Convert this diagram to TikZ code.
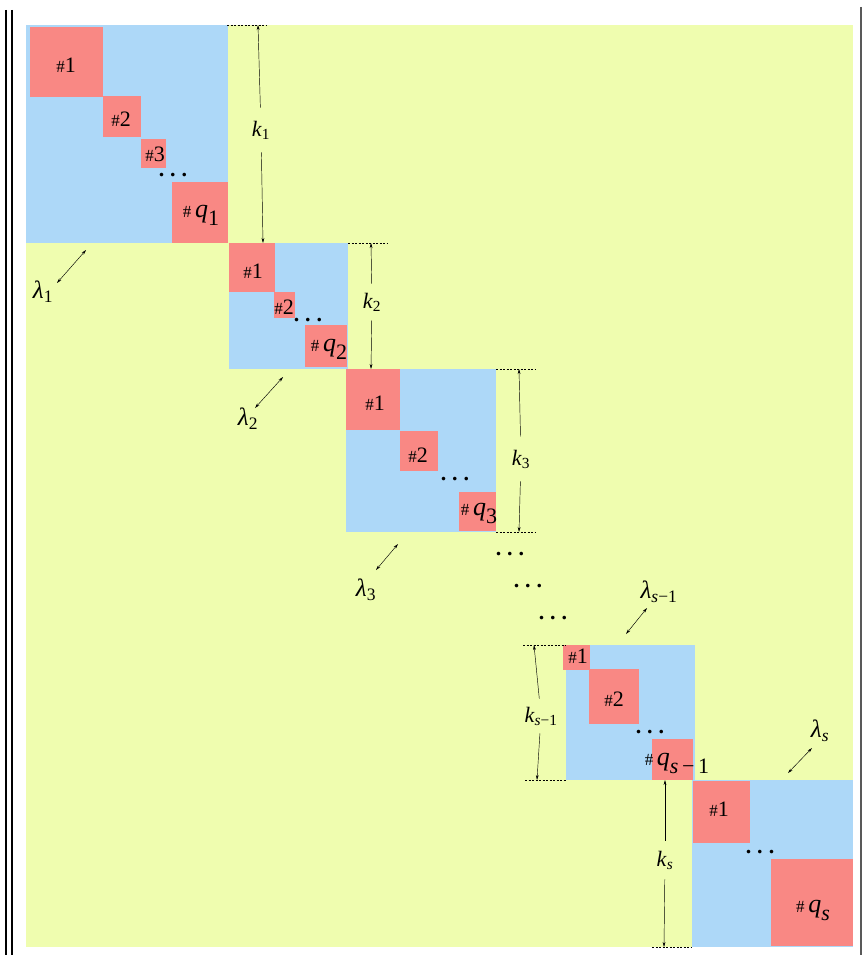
\documentclass[tikz,border=0pt]{standalone}
\usepackage{fontspec}
\setmainfont{Liberation Serif}
\usetikzlibrary{arrows.meta}
\definecolor{bgyellow}{RGB}{239,253,175}
\definecolor{blkblue}{RGB}{173,216,248}
\definecolor{subred}{RGB}{249,136,132}
\newcommand{\hs}{{\fontsize{17}{17}\selectfont\#}}
\newcommand{\qlab}[1]{\hs\,{\fontsize{26}{26}\selectfont\textit{q}}\raisebox{-8pt}{#1}}
\newcommand{\dotrow}{\textbf{.\kern6pt.\kern6pt.}}
\begin{document}
\begin{tikzpicture}[x=1pt,y=-1pt,
  blk/.style={fill=blkblue},
  sq/.style={fill=subred},
  lab/.style={font=\fontsize{22}{26}\selectfont,inner sep=0pt},
  lamlab/.style={font=\fontsize{25}{28}\selectfont,inner sep=0pt},
  klab/.style={font=\fontsize{22}{26}\selectfont,inner xsep=1pt,inner ysep=11pt},
  dim/.style={-{Stealth[length=5pt,width=2.8pt]},line width=0.45pt},
  twohead/.style={{Stealth[length=5pt,width=2.8pt]}-{Stealth[length=5pt,width=2.8pt]},line width=0.45pt},
  guide/.style={line width=0.45pt,dash pattern=on 2pt off 1.5pt}]
  \useasboundingbox (0,0) rectangle (862,955);
  \fill[white] (0,0) rectangle (862,955);
  \draw[line width=2pt] (6,10)--(6,955);
  \draw[line width=2pt] (12,10)--(12,955);
  \draw[line width=1.2pt,black!65] (861,7)--(861,955);
  \fill[bgyellow] (26,25) rectangle (853,947);
  % block 1
  \fill[blk] (26,25) rectangle (228,243);
  \fill[sq] (30,27) rectangle (103,97);
  \fill[sq] (103,96) rectangle (141,137);
  \fill[sq] (141,139) rectangle (166,168);
  \fill[sq] (172,182) rectangle (228,243);
  \node[lab] (a1) at (66,65) {\hs1};
  \node[lab] (a2) at (121,119) {\hs2};
  \node[lab] (a3) at (155,154) {\hs3};
  \node[lab] (adots) at (173,175) {\dotrow};
  \node[lab] (aq) at (201,215) {\qlab{1}};
  % block 2
  \fill[blk] (229,243) rectangle (348,369);
  \fill[sq] (229,243) rectangle (275,292);
  \fill[sq] (274,292) rectangle (295,318);
  \fill[sq] (305,325) rectangle (347,367);
  \node[lab] (b1) at (253,271) {\hs1};
  \node[lab] (b2) at (284,307) {\hs2};
  \node[lab] (bdots) at (308,320) {\dotrow};
  \node[lab] (bq) at (329,349) {\qlab{2}};
  % block 3
  \fill[blk] (346,369) rectangle (496,532);
  \fill[sq] (346,369) rectangle (400,430);
  \fill[sq] (400,431) rectangle (438,471);
  \fill[sq] (459,492) rectangle (496,531);
  \node[lab] (c1) at (375,403) {\hs1};
  \node[lab] (c2) at (418,455) {\hs2};
  \node[lab] (cdots) at (455,479) {\dotrow};
  \node[lab] (cq) at (479,513) {\qlab{3}};
  % gap
  \node[lab] (g1) at (510,554) {\dotrow};
  \node[lab] (g2) at (528,586) {\dotrow};
  \node[lab] (g3) at (553,618) {\dotrow};
  % block s-1
  \fill[blk] (566,645) rectangle (695,780);
  \fill[sq] (563,645) rectangle (590,670);
  \fill[sq] (589,669) rectangle (639,724);
  \fill[sq] (652,739) rectangle (693,780);
  \node[lab] (d1) at (578,656) {\hs1};
  \node[lab] (d2) at (614,699) {\hs2};
  \node[lab] (ddots) at (650,732) {\dotrow};
  \node[lab] (dq) at (677,763) {\qlab{\textit{s}\,−\,1}};
  % block s
  \fill[blk] (692,780) rectangle (853,947);
  \fill[sq] (693,781) rectangle (750,843);
  \fill[sq] (771,859) rectangle (853,946);
  \node[lab] (e1) at (719,809) {\hs1};
  \node[lab] (edots) at (760,852) {\dotrow};
  \node[lab] (eq) at (813,910) {\qlab{\textit{s}}};
  % sizes k
  \draw[guide] (227,25)--(266,25);
  \draw[guide] (348,243)--(387,243);
  \draw[guide] (496,369)--(535,369);
  \draw[guide] (496,532)--(535,532);
  \draw[guide] (523,645)--(566,645);
  \draw[guide] (525,780)--(566,780);
  \draw[guide] (652,947)--(692,947);
  \coordinate (k1top) at (258,25);
  \coordinate (k1bot) at (263,243);
  \node[klab,inner ysep=13pt] (k1) at (261,130) {\textit{k}\textsubscript{1}};
  \draw[dim] (k1)--(k1top);
  \draw[dim] (k1)--(k1bot);
  \coordinate (k2top) at (371,243);
  \coordinate (k2bot) at (371,369);
  \node[klab,inner ysep=9pt] (k2) at (372,302) {\textit{k}\textsubscript{2}};
  \draw[dim] (k2)--(k2top);
  \draw[dim] (k2)--(k2bot);
  \coordinate (k3top) at (519,369);
  \coordinate (k3bot) at (519,532);
  \node[klab,inner ysep=13pt] (k3) at (521,459) {\textit{k}\textsubscript{3}};
  \draw[dim] (k3)--(k3top);
  \draw[dim] (k3)--(k3bot);
  \coordinate (kstop1) at (534,645);
  \coordinate (ksbot1) at (537,780);
  \node[klab,inner ysep=8pt] (ks1) at (541,716) {\textit{k}\textsubscript{\textit{s}−1}};
  \draw[dim] (ks1)--(kstop1);
  \draw[dim] (ks1)--(ksbot1);
  \coordinate (kstop) at (665,780);
  \coordinate (ksbot) at (664,947);
  \node[klab,inner ysep=10pt] (ks) at (665,860) {\textit{k}\textsubscript{\textit{s}}};
  \draw[dim] (ks)--(kstop);
  \draw[dim] (ks)--(ksbot);
  % eigenvalues
  \coordinate (l1a) at (57,283);
  \coordinate (l1b) at (86,250);
  \node[lamlab] (l1) at (43,292) {\textit{λ}\textsubscript{1}};
  \draw[twohead] (l1a)--(l1b);
  \coordinate (l2a) at (255,408);
  \coordinate (l2b) at (283,377);
  \node[lamlab] (l2) at (248,419) {\textit{λ}\textsubscript{2}};
  \draw[twohead] (l2a)--(l2b);
  \coordinate (l3a) at (376,570);
  \coordinate (l3b) at (398,544);
  \node[lamlab] (l3) at (366,590) {\textit{λ}\textsubscript{3}};
  \draw[twohead] (l3a)--(l3b);
  \coordinate (ls1a) at (626,634);
  \coordinate (ls1b) at (647,608);
  \node[lamlab] (ls1) at (659,592) {\textit{λ}\textsubscript{\textit{s}−1}};
  \draw[twohead] (ls1a)--(ls1b);
  \coordinate (lsa) at (788,773);
  \coordinate (lsb) at (812,748);
  \node[lamlab] (ls) at (820,731) {\textit{λ}\textsubscript{\textit{s}}};
  \draw[twohead] (lsa)--(lsb);
\end{tikzpicture}
\end{document}
